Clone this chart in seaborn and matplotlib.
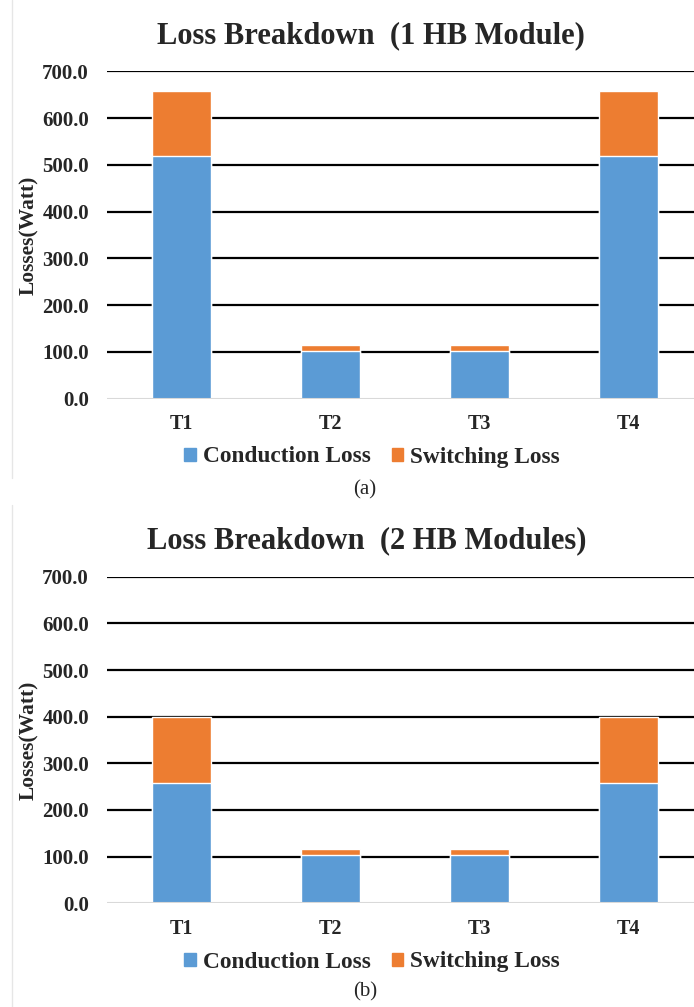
import pandas as pd
import matplotlib
matplotlib.use("Agg")
import matplotlib.pyplot as plt
import seaborn as sns
from matplotlib.patches import Patch
from matplotlib.lines import Line2D

# donnees
switches = ["T1", "T2", "T3", "T4"]
cond_1hb = [518.0, 102.6, 102.6, 518.0]
sw_1hb = [139.0, 12.0, 12.0, 139.0]
cond_2hb = [258.5, 104.2, 104.2, 258.5]
sw_2hb = [141.5, 12.2, 12.2, 141.5]
titles = ["Loss Breakdown  (1 HB Module)", "Loss Breakdown  (2 HB Modules)"]
captions = ["(a)", "(b)"]
yticks = [0, 100, 200, 300, 400, 500, 600, 700]

blue = "#5B9BD5"
orange = "#ED7D31"

sns.set_style("white")
plt.rcParams["font.family"] = ["Liberation Serif", "DejaVu Serif"]

W, H = 694, 1007
fig = plt.figure(figsize=(W / 100, H / 100), dpi=100)

def px_axes(x0, y0, x1, y1):
    return fig.add_axes([x0 / W, 1 - y1 / H, (x1 - x0) / W, (y1 - y0) / H])

# (conduction, commutation, haut axe, bas axe, titre x, titre y, legende y, legende titre y)
panels = [
    (cond_1hb, sw_1hb, 71.3, 398.7, 371, 36, 457, 490),
    (cond_2hb, sw_2hb, 576.7, 903.3, 367, 541, 962, 992),
]

for i, (cond, sw, ytop, ybot, xt, yt, yleg, ycap) in enumerate(panels):
    df = pd.DataFrame({"switch": switches, "cond": cond, "sw": sw})
    df["total"] = df["cond"] + df["sw"]
    ax = px_axes(107, ytop, 703, ybot)
    sns.barplot(data=df, x="switch", y="total", color=orange, width=0.4,
                saturation=1, ax=ax, zorder=3)
    sns.barplot(data=df, x="switch", y="cond", color=blue, width=0.4,
                saturation=1, ax=ax, zorder=3)
    ax.set_ylim(0, 700)
    ax.set_yticks(yticks)
    ax.set_yticklabels([f"{v:.1f}" for v in yticks], fontsize=15, fontweight="bold")
    ax.set_xticks(range(len(switches)))
    ax.set_xticklabels(switches, fontsize=14.5, fontweight="bold")
    ax.tick_params(axis="y", length=0, pad=13)
    ax.tick_params(axis="x", length=0, pad=11)
    for v in yticks[1:]:
        ax.axhline(v, color="black", lw=1.6, zorder=1)
    ax.axhline(0, color="#d9d9d9", lw=1.5, zorder=4)
    for s in ax.spines.values():
        s.set_visible(False)
    ax.set_xlabel("")
    ax.set_ylabel("Losses(Watt)", fontsize=15.5, fontweight="bold")
    ax.yaxis.set_label_coords(-0.114, 0.5)

    fig.text(xt / W, 1 - yt / H, titles[i], ha="center", va="center",
             fontsize=22, fontweight="bold")
    handles = [Patch(color=blue), Patch(color=orange)]
    fig.legend(handles, ["Conduction Loss", "Switching Loss"], loc="center",
               bbox_to_anchor=(372 / W, 1 - yleg / H), ncol=2, frameon=False,
               prop={"size": 16.8, "weight": "bold"}, handlelength=0.5,
               handleheight=0.5, handletextpad=0.28, columnspacing=0.9)
    fig.text(365 / W, 1 - ycap / H, captions[i], ha="center", va="center",
             fontsize=15)

# bordure grise a gauche
fig.add_artist(Line2D([12 / W, 12 / W], [1 - 478 / H, 1], color="#e6e6e6", lw=1))
fig.add_artist(Line2D([12 / W, 12 / W], [0, 1 - 505 / H], color="#e6e6e6", lw=1))

fig.savefig("out.png", dpi=100)
